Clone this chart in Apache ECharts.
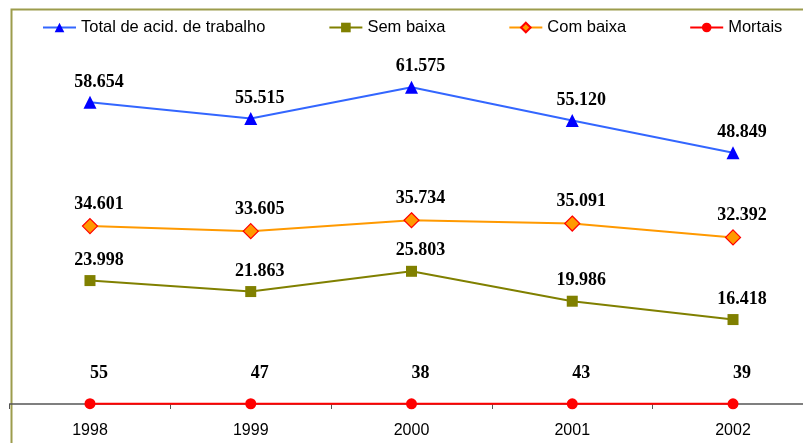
<!DOCTYPE html>
<html>
<head>
<meta charset="utf-8">
<script src="https://cdn.jsdelivr.net/npm/echarts@6/dist/echarts.min.js"></script>
<style>html,body{margin:0;padding:0;background:#fff}#c{width:803px;height:443px}</style>
</head>
<body>
<div id="c"></div>
<script>
var categories = ['1998', '1999', '2000', '2001', '2002'];
var seriesNames = ['Total de acid. de trabalho', 'Sem baixa', 'Com baixa', 'Mortais'];
var totalAcid = [58654, 55515, 61575, 55120, 48849];
var semBaixa = [23998, 21863, 25803, 19986, 16418];
var comBaixa = [34601, 33605, 35734, 35091, 32392];
var mortais = [55, 47, 38, 43, 39];

function fmt(v) {
  return String(v).replace(/\B(?=(\d{3})+(?!\d))/g, '.');
}

var labelStyle = {
  show: true, position: 'top', offset: [9, 0],
  fontFamily: '"Liberation Serif", "Times New Roman", serif',
  fontWeight: 'bold', fontSize: 18, color: '#000',
  formatter: function (p) { return fmt(p.value); }
};

function mk(name, data, lineColor, symbol, size, fill, border, dist) {
  return {
    name: name, type: 'line', data: data, symbol: symbol, symbolSize: size,
    lineStyle: { color: lineColor, width: 2 },
    itemStyle: { color: fill, borderColor: border, borderWidth: border === fill ? 0 : 1.2 },
    label: Object.assign({}, labelStyle, { distance: dist }),
    z: 5, animation: false
  };
}

var chart = echarts.init(document.getElementById('c'));
chart.setOption({
  animation: false,
  graphic: [{
    type: 'rect', left: 9, top: 7, z: -1,
    shape: { x: 0, y: 0, width: 900, height: 600 },
    style: { fill: 'none', stroke: '#9c9c4c', lineWidth: 2 }
  }],
  legend: {
    top: 14, left: 37, itemGap: 63, itemWidth: 33, itemHeight: 12,
    textStyle: { fontFamily: '"Liberation Sans", Arial, sans-serif', fontSize: 16.5, color: '#000' },
    data: seriesNames
  },
  grid: { left: 9.6, width: 803.8, top: 44, height: 360, containLabel: false, outerBoundsMode: 'none' },
  xAxis: {
    type: 'category', data: categories, boundaryGap: true,
    axisLine: { lineStyle: { color: '#555', width: 1.5 } },
    axisTick: { show: true, length: 5, lineStyle: { color: '#555' } },
    axisLabel: { margin: 19, fontFamily: '"Liberation Sans", Arial, sans-serif', fontSize: 16, color: '#000' }
  },
  yAxis: {
    type: 'value', min: 0, max: 70000, show: false, splitLine: { show: false }
  },
  series: [
    mk(seriesNames[0], totalAcid, '#3366ff', 'triangle', 13, '#0000ff', '#0000ff', 5),
    mk(seriesNames[1], semBaixa, '#808000', 'rect', 11, '#808000', '#808000', 6),
    mk(seriesNames[2], comBaixa, '#ff9900', 'diamond', 15, '#ff9900', '#ff0000', 5),
    mk(seriesNames[3], mortais, '#ff0000', 'circle', 11, '#ff0000', '#ff0000', 16)
  ]
});
</script>
</body>
</html>
